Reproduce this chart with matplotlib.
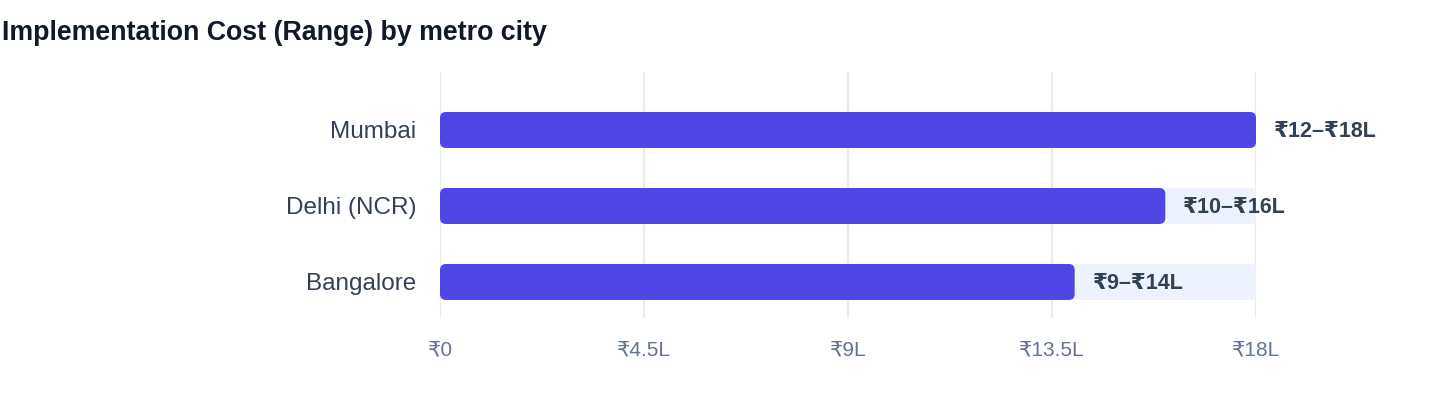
"""
Implementation cost range per metro city - horizontal bar chart.
"""

# === Imports ===
import matplotlib
matplotlib.use("Agg")
import matplotlib.pyplot as plt
from matplotlib.patches import FancyBboxPatch

# === Daten ===
cities = ["Bangalore", "Delhi (NCR)", "Mumbai"]
cost_low = [9, 10, 12]      # in Lakh
cost_high = [14, 16, 18]    # in Lakh
axis_max = 18
tick_values = [0, 4.5, 9, 13.5, 18]
tick_labels = ["₹0", "₹4.5L", "₹9L", "₹13.5L", "₹18L"]

# === Stil ===
plt.rcParams['font.family'] = ['Liberation Sans', 'DejaVu Sans']
BAR_COLOR = "#4F46E5"
TRACK_COLOR = "#EEF2FF"
GRID_COLOR = "#E2E8F0"
LABEL_COLOR = "#334155"
TICK_COLOR = "#64748B"
TITLE_COLOR = "#111827"

W, H = 1440, 408
fig = plt.figure(figsize=(W / 100, H / 100), dpi=100)
left, right, top, bottom = 440, 1256, 72, 318
ax = fig.add_axes([left / W, 1 - bottom / H, (right - left) / W, (bottom - top) / H])

ax.set_xlim(0, axis_max)
ax.set_ylim(-0.474, 2.763)

bar_h = 36 / 76
y_pos = list(range(len(cities)))

# Hintergrund-Spur und Balken
tracks = ax.barh(y_pos, [axis_max] * len(cities), height=bar_h, color=TRACK_COLOR, zorder=2)
bars = ax.barh(y_pos, cost_high, height=bar_h, color=BAR_COLOR, zorder=3)

# Abgerundete Ecken: Rechtecke durch FancyBboxPatch ersetzen
px_x = (right - left) / axis_max
px_y = 76
radius = 6 / px_x
for patch in list(tracks) + list(bars):
    x0, y0 = patch.get_x(), patch.get_y()
    w, h = patch.get_width(), patch.get_height()
    rounded = FancyBboxPatch((x0, y0), w, h,
                             boxstyle=f"round,pad=0,rounding_size={radius}",
                             mutation_aspect=px_x / px_y,
                             facecolor=patch.get_facecolor(), edgecolor="none",
                             zorder=patch.get_zorder())
    patch.remove()
    ax.add_patch(rounded)

# Wertebeschriftung
for y, lo, hi in zip(y_pos, cost_low, cost_high):
    ax.annotate(f"₹{lo}–₹{hi}L", xy=(hi, y), xytext=(18, -2), textcoords="offset pixels",
                va="center", ha="left", fontsize=15.5, fontweight="bold",
                color=LABEL_COLOR, zorder=5, annotation_clip=False)

# Achsen
ax.set_yticks(y_pos)
ax.set_yticklabels(cities, fontsize=17.5, color=LABEL_COLOR)
ax.set_xticks(tick_values)
ax.set_xticklabels(tick_labels, fontsize=15, color=TICK_COLOR)
ax.tick_params(axis="y", length=0, pad=17)
ax.tick_params(axis="x", length=0, pad=16.5)
ax.xaxis.grid(True, color=GRID_COLOR, linewidth=1.2, zorder=0)
ax.set_axisbelow(True)
for s in ax.spines.values():
    s.set_visible(False)

fig.text(2 / W, 1 - 33 / H, "Implementation Cost (Range) by metro city",
         fontsize=19.3, fontweight="bold", color=TITLE_COLOR, va="center", ha="left")

fig.savefig("out.png", dpi=100)
